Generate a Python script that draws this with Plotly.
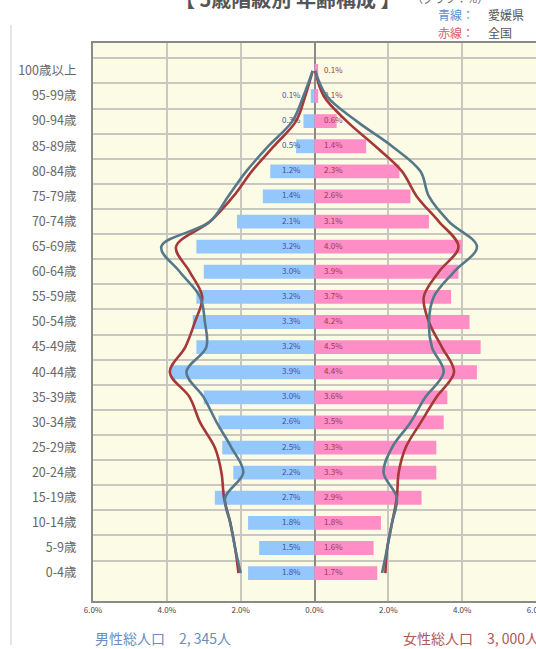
import plotly.graph_objects as go

ages = ["100歳以上", "95-99歳", "90-94歳", "85-89歳", "80-84歳", "75-79歳", "70-74歳",
        "65-69歳", "60-64歳", "55-59歳", "50-54歳", "45-49歳", "40-44歳", "35-39歳",
        "30-34歳", "25-29歳", "20-24歳", "15-19歳", "10-14歳", "5-9歳", "0-4歳"]

male_pct = [0.0, 0.1, 0.3, 0.5, 1.2, 1.4, 2.1, 3.2, 3.0, 3.2, 3.3, 3.2, 3.9, 3.0,
            2.6, 2.5, 2.2, 2.7, 1.8, 1.5, 1.8]
female_pct = [0.1, 0.1, 0.6, 1.4, 2.3, 2.6, 3.1, 4.0, 3.9, 3.7, 4.2, 4.5, 4.4, 3.6,
              3.5, 3.3, 3.3, 2.9, 1.8, 1.6, 1.7]

ehime_male = [0.05, 0.3, 0.6, 1.25, 1.85, 2.34, 2.83, 4.15, 3.65, 3.1, 2.97, 2.93, 3.47, 3.0,
              2.65, 2.25, 1.93, 2.42, 2.28, 2.15, 2.0]
japan_male = [0.05, 0.25, 0.5, 1.1, 1.7, 2.2, 2.83, 3.75, 3.38, 3.04, 3.24, 3.5, 3.92, 3.38,
              3.1, 2.7, 2.52, 2.45, 2.28, 2.15, 2.06]
ehime_female = [0.02, 0.33, 1.14, 2.1, 2.87, 3.1, 3.64, 4.4, 3.78, 3.23, 3.1, 3.18, 3.5, 3.0,
                2.6, 2.1, 1.87, 2.23, 2.1, 1.97, 1.83]
japan_female = [0.02, 0.25, 0.87, 1.65, 2.37, 2.77, 3.37, 3.9, 3.37, 2.96, 3.1, 3.45, 3.78, 3.3,
                2.88, 2.47, 2.28, 2.23, 2.1, 1.97, 1.92]

x_ticks = [-6, -4, -2, 0, 2, 4, 6]
x_tick_text = ["6.0%", "4.0%", "2.0%", "0.0%", "2.0%", "4.0%", "6.0%"]

title_text = "【 5歳階級別 年齢構成 】"
unit_text = "（グラフ：%）"
male_total = "男性総人口　2, 345人"
female_total = "女性総人口　3, 000人"

W, H = 536, 649
L, R, T, B = 93, 0, 43, 48
PW, PH = W - L - R, H - T - B


def px(x):
    return (x - L) / PW


def py(y):
    return (H - B - y) / PH


FONT = "Noto Sans CJK JP"

fig = go.Figure()
fig.add_trace(go.Bar(y=ages, x=[-v for v in male_pct], orientation="h",
                     marker=dict(color="#94c8fc", line=dict(width=0)), width=0.55,
                     hoverinfo="skip", showlegend=False))
fig.add_trace(go.Bar(y=ages, x=female_pct, orientation="h",
                     marker=dict(color="#ff8ec6", line=dict(width=0)), width=0.55,
                     hoverinfo="skip", showlegend=False))

fig.add_trace(go.Scatter(y=ages, x=[-0.38] * len(ages), mode="text",
                         text=[f"{v:.1f}%" if v > 0 else "" for v in male_pct],
                         textposition="middle left",
                         textfont=dict(size=8, color="#4a4aa8", family=FONT),
                         hoverinfo="skip", showlegend=False))
fig.add_trace(go.Scatter(y=ages, x=[0.26] * len(ages), mode="text",
                         text=[f"{v:.1f}%" for v in female_pct],
                         textposition="middle right",
                         textfont=dict(size=8, color="#9a3a4a", family=FONT),
                         hoverinfo="skip", showlegend=False))

for xs, col in [([-v for v in japan_male], "#a53838"), (japan_female, "#a53838"),
                ([-v for v in ehime_male], "#56788a"), (ehime_female, "#56788a")]:
    fig.add_trace(go.Scatter(y=ages, x=xs, mode="lines",
                             line=dict(color=col, width=2.6, shape="spline", smoothing=1.0),
                             hoverinfo="skip", showlegend=False))

fig.update_layout(
    width=W, height=H,
    margin=dict(l=L, r=R, t=T, b=B, autoexpand=False),
    paper_bgcolor="white", plot_bgcolor="#fcfce6",
    barmode="relative", bargap=0.46,
    font=dict(family=FONT),
    xaxis=dict(range=[-6, 6], tickvals=x_ticks, ticktext=x_tick_text,
               showgrid=True, gridcolor="#c8c8c0", gridwidth=1.5,
               zeroline=True, zerolinecolor="#8a8a8a", zerolinewidth=2,
               showline=True, linecolor="#8a8a8a", linewidth=2, mirror=True,
               ticks="", ticklabeloverflow="allow", automargin=False,
               tickfont=dict(size=8, color="#444", family=FONT),
               fixedrange=True),
    yaxis=dict(type="category", autorange="reversed", tickson="boundaries",
               showgrid=True, gridcolor="#c8c8c0", gridwidth=1.5,
               showline=True, linecolor="#8a8a8a", linewidth=2, mirror=True,
               ticks="", ticklabelstandoff=12, automargin=False,
               tickfont=dict(size=12.5, color="#666", family=FONT),
               fixedrange=True),
)

fig.add_shape(type="line", xref="paper", yref="paper", x0=px(11), x1=px(11),
              y0=py(25), y1=py(645), line=dict(color="#dddddd", width=1.5))

anns = [
    dict(text=title_text, x=px(287), y=py(-1), size=20, color="#555", anchor="center", bold=True),
    dict(text=unit_text, x=px(410), y=py(-2), size=11, color="#666", anchor="left", bold=False),
    dict(text="青線：", x=px(436), y=py(15), size=12, color="#5b8fd0", anchor="left", bold=False),
    dict(text="愛媛県", x=px(486), y=py(15), size=12, color="#555", anchor="left", bold=False),
    dict(text="赤線：", x=px(436), y=py(32), size=12, color="#d85a62", anchor="left", bold=False),
    dict(text="全国", x=px(486), y=py(32), size=12, color="#555", anchor="left", bold=False),
    dict(text=male_total, x=px(93), y=py(638), size=14, color="#6a8cc0", anchor="left", bold=False),
    dict(text=female_total, x=px(401), y=py(638), size=14, color="#b05858", anchor="left", bold=False),
]
for a in anns:
    t = f"<b>{a['text']}</b>" if a["bold"] else a["text"]
    fig.add_annotation(text=t, x=a["x"], y=a["y"], xref="paper", yref="paper",
                       xanchor=a["anchor"], yanchor="middle", showarrow=False,
                       font=dict(size=a["size"], color=a["color"], family=FONT))

fig.write_html("out.html", config={"displayModeBar": False},
               post_script="document.body.style.margin='0';document.body.style.overflow='hidden';")
